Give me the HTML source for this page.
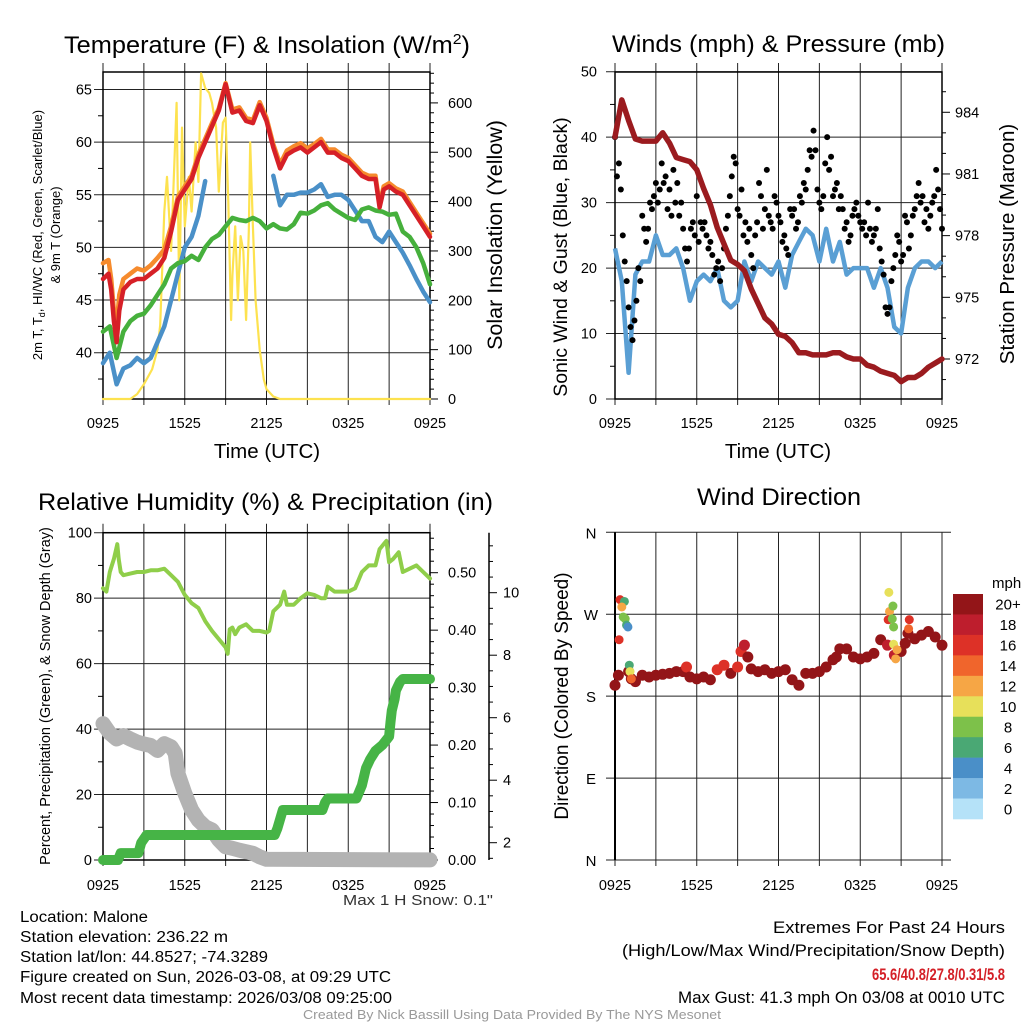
<!DOCTYPE html>
<html><head><meta charset="utf-8"><title>Mesonet Meteogram</title>
<style>
html,body{margin:0;padding:0;background:#fff;}
svg{display:block;font-family:"Liberation Sans",Arial,sans-serif;}
</style></head>
<body>
<svg id="chart" xmlns="http://www.w3.org/2000/svg" width="1024" height="1024" viewBox="0 0 1024 1024">
<rect x="0" y="0" width="1024" height="1024" fill="#fff"/>
<g id="g1"></g>
<g id="g2"></g>
<g id="g3"></g>
<g id="g4"></g>

<text x="64" y="53" font-size="24" textLength="406" lengthAdjust="spacingAndGlyphs">Temperature (F) &amp; Insolation (W/m<tspan font-size="15" dy="-9">2</tspan><tspan dy="9">)</tspan></text>
<text x="612" y="52" font-size="24" textLength="333" lengthAdjust="spacingAndGlyphs">Winds (mph) &amp; Pressure (mb)</text>
<text x="38" y="510" font-size="24" textLength="455" lengthAdjust="spacingAndGlyphs">Relative Humidity (%) &amp; Precipitation (in)</text>
<text x="697" y="505" font-size="24" textLength="164" lengthAdjust="spacingAndGlyphs">Wind Direction</text>

<text x="267" y="458" font-size="20.5" text-anchor="middle">Time (UTC)</text>
<text x="778" y="458" font-size="20.5" text-anchor="middle">Time (UTC)</text>

<text transform="translate(42,235) rotate(-90)" font-size="13" text-anchor="middle">2m T, T<tspan font-size="9" dy="3">d</tspan><tspan dy="-3">, HI/WC (Red, Green, Scarlet/Blue)</tspan></text>
<text transform="translate(60,235) rotate(-90)" font-size="13" text-anchor="middle">&amp; 9m T (Orange)</text>
<text transform="translate(502,235) rotate(-90)" font-size="21.5" text-anchor="middle">Solar Insolation (Yellow)</text>
<text transform="translate(567,257) rotate(-90)" font-size="19.5" text-anchor="middle">Sonic Wind &amp; Gust (Blue, Black)</text>
<text transform="translate(1014,244) rotate(-90)" font-size="20.5" text-anchor="middle">Station Pressure (Maroon)</text>
<text transform="translate(50,696) rotate(-90)" font-size="14.5" text-anchor="middle">Percent, Precipitation (Green), &amp; Snow Depth (Gray)</text>
<text transform="translate(568,696) rotate(-90)" font-size="19" text-anchor="middle">Direction (Colored By Speed)</text>

<text x="343" y="905" font-size="15" textLength="150" lengthAdjust="spacingAndGlyphs" fill="#333">Max 1 H Snow: 0.1"</text>

<g font-size="15.5">
<text x="20" y="922" textLength="128" lengthAdjust="spacingAndGlyphs">Location: Malone</text>
<text x="20" y="942" textLength="208" lengthAdjust="spacingAndGlyphs">Station elevation: 236.22 m</text>
<text x="20" y="962" textLength="248" lengthAdjust="spacingAndGlyphs">Station lat/lon: 44.8527; -74.3289</text>
<text x="20" y="982" textLength="371" lengthAdjust="spacingAndGlyphs">Figure created on Sun, 2026-03-08, at 09:29 UTC</text>
<text x="20" y="1003" textLength="372" lengthAdjust="spacingAndGlyphs">Most recent data timestamp: 2026/03/08 09:25:00</text>
</g>
<g font-size="16.5">
<text x="773" y="933" textLength="232" lengthAdjust="spacingAndGlyphs">Extremes For Past 24 Hours</text>
<text x="622" y="956" textLength="383" lengthAdjust="spacingAndGlyphs">(High/Low/Max Wind/Precipitation/Snow Depth)</text>
<text x="872" y="980" textLength="133" lengthAdjust="spacingAndGlyphs" fill="#d42027" font-weight="bold">65.6/40.8/27.8/0.31/5.8</text>
<text x="678" y="1003" textLength="327" lengthAdjust="spacingAndGlyphs">Max Gust: 41.3 mph On 03/08 at 0010 UTC</text>
</g>
<text x="303" y="1019" font-size="13" textLength="418" lengthAdjust="spacingAndGlyphs" fill="#999">Created By Nick Bassill Using Data Provided By The NYS Mesonet</text>
</svg>

<script>
// ---------- DATA ----------
const xTickLabels = ["0925","1525","2125","0325","0925"];

const tempTimes = [0,0.4,0.6,0.8,1,1.2,1.5,2,2.5,3,3.5,4,4.5,5,5.5,6,6.5,7,7.5,8,8.5,9,9.5,10,10.5,11,11.5,12,12.5,13,13.5,14,14.5,15,15.5,16,16.5,17,17.5,18,18.5,19,19.5,20,20.3,20.6,21,21.5,22,22.5,23,23.5,24];
const tempRed = [47,47.5,46,43,41,44,46,46.7,47,47,47.5,48,49,51.5,54.5,55.5,56.5,58.5,60,61.5,63,65.5,62.8,63,62,61.8,63.5,62,59.5,57.5,58.8,59.2,59.5,59,59.5,60,59,59,58.5,58.2,57.5,56.8,56.5,56.5,53.8,55.5,55.8,55.3,55,54,53,52,51];
const tempOrange = [48.5,48.8,47,44,42.5,45.5,47,47.5,48,47.8,48.3,49,49.8,52,54.8,55.8,56.8,58.8,60.3,61.8,63.2,65.6,63.1,63.3,62.3,62.1,63.8,62.3,59.8,57.9,59.2,59.6,59.9,59.4,59.8,60.3,59.3,59.3,58.8,58.5,57.8,57.1,56.8,56.8,54.1,55.8,56.1,55.6,55.3,54.3,53.3,52.3,51.3];
const halfHourTimes = [0,0.5,1,1.5,2,2.5,3,3.5,4,4.5,5,5.5,6,6.5,7,7.5,8,8.5,9,9.5,10,10.5,11,11.5,12,12.5,13,13.5,14,14.5,15,15.5,16,16.5,17,17.5,18,18.5,19,19.5,20,20.5,21,21.5,22,22.5,23,23.5,24];
const tempGreen = [42,42.5,39.5,42,43,43.5,43.7,44.5,45.5,46.5,48,48.5,48.7,49.2,48.8,50,50.8,51.2,52,52.8,52.6,52.5,52.8,52.5,51.8,52.2,51.8,51.7,52.2,53.3,53.2,53.5,54,54.2,53.6,53.2,52.8,52.6,53.6,53.8,53.5,53.4,53.1,53.2,51.5,51,50,48.5,46.5];
const tempBlue = [39,40,37,38.5,38.8,39.5,39,39.5,41,42.5,45,47.5,50,51,53,56.3,null,null,null,null,null,null,null,null,null,56.8,54,55,55,55.2,55.2,55.5,56,54.8,55,55,54.5,53.5,52.5,52.5,51,50.5,51.5,50.5,49.5,48.3,47,45.8,44.8];
const solarTimes = [0,2,2.5,3,3.3,3.6,4,4.2,4.5,4.7,5,5.4,5.6,5.8,6,6.3,6.5,6.8,7,7.2,7.5,7.8,8,8.3,8.5,8.8,9,9.2,9.4,9.5,9.7,9.9,10.1,10.3,10.5,10.7,10.8,11,11.2,11.5,11.8,12,12.5,13,24];
const solarValues = [0,0,10,30,45,60,100,150,380,450,300,600,200,550,350,450,380,520,440,660,630,620,600,550,420,560,570,400,160,250,350,200,330,300,160,340,520,350,200,100,40,20,5,0,0];

const pressureValues = [982.8,984.6,983.6,982.7,982.6,982.6,982.6,983,982.5,981.8,981.7,981.6,981.2,980.3,979.5,978.4,977.6,976.8,976.6,976.3,975.4,974.7,974,973.7,973.2,973.1,972.8,972.3,972.3,972.2,972.2,972.2,972.3,972.3,972.1,972,972,971.7,971.6,971.4,971.3,971.2,970.9,971.1,971.1,971.3,971.6,971.8,972];
const windValues = [23,18,4,19,21,21,25,22,22,23,20,15,18,19,18,20,15,14,15,21,18,21,20,19,21,17,22,24,26,25,21,26,21,24,19,20,20,20,17,20,17,11,10,17,20,21,21,20,21];
const gustValues = [40,34,36,32,25,21,18,14,11,9,12,15,20,18,28,26,24,26,30,29,31,33,30,32,36,33,34,29,32,28,35,30,33,28,30,26,23,21,23,26,27,25,31,24,27,26,27,25,23,24,22,19,20,21,18,20,23,26,28,31,34,37,36,29,28,32,25,27,24,26,22,20,25,27,33,31,26,29,35,28,27,26,31,30,28,27,24,25,23,22,29,28,29,26,27,31,30,33,32,35,38,37,41,38,32,30,29,31,36,40,35,37,31,32,33,29,31,29,26,27,24,25,28,29,30,28,27,26,27,25,30,26,24,25,26,29,23,21,19,14,13,14,18,20,22,25,24,21,22,28,27,23,25,28,29,31,33,30,31,27,29,26,28,30,31,35,32,29,26];

const rhTimes = [0,0.25,0.5,0.8,1.05,1.15,1.3,1.5,2,2.5,3,3.5,4,4.5,5,5.5,6,6.5,7,7.5,8,8.5,9,9.15,9.3,9.5,9.7,10,10.5,11,11.5,12,12.2,12.5,13,13.3,13.5,14,14.5,15,15.5,16,16.3,16.5,17,17.5,18,18.5,19,19.5,20,20.3,20.8,21,21.3,21.7,22,22.5,23,23.5,24];
const rhValues = [83,82,88,92,96.5,92,88,87,87.5,88,88,88.5,88.5,89,87,85,81,78.5,77,73,70,67.5,65,63,70.5,71,69,71,72,70,70,69.5,70,76,78,82,78,78,80,81.5,81,80,80,83.5,82,82,82,83,88,90,90,95,97.5,91,92,94,88,89,90,88,86];
const precipTimes = [0,1.1,1.3,2.6,2.8,3.2,12.6,12.8,13.2,16.1,16.3,16.5,18.6,19,19.3,19.6,20,20.5,21,21.1,21.2,21.4,21.5,21.6,21.8,22,24];
const precipValues = [0,0,0.012,0.012,0.03,0.0435,0.0435,0.055,0.087,0.087,0.1,0.107,0.107,0.13,0.16,0.175,0.19,0.2,0.215,0.24,0.26,0.28,0.295,0.3,0.31,0.315,0.315];
const snowTimes = [0,0.5,1,1.5,2,2.5,3,3.5,4,4.5,5,5.3,5.5,6,6.5,7,7.5,8,8.5,9,9.5,10,11,11.5,12,24];
const snowValues = [5.81,5.5,5.32,5.43,5.32,5.22,5.16,5.11,4.95,5.17,5.07,4.86,4.22,3.58,3.05,2.72,2.51,2.41,2.09,1.87,1.82,1.76,1.66,1.55,1.47,1.45];

const dirTimes = [0,0.25,1,1.2,1.5,2,2.5,3,3.5,4,4.5,5,5.25,5.5,6,6.5,7,7.5,8,8.5,9,9.25,9.5,9.75,10,10.5,11,11.5,12,12.5,13,13.5,14,14.5,15,15.5,16,16.25,16.5,17,17.5,18,18.5,19,19.5,20,20.5,21,21.3,21.5,22,22.5,23,23.5,24];
const dirValues = [192,203,207,199,196,203,201,203,204,205,207,207,212,201,199,201,198,209,214,205,212,229,236,223,210,207,209,205,207,209,198,192,205,205,207,212,220,223,232,232,223,221,223,227,242,236,225,229,238,249,243,247,251,245,236];
const dirSpeeds = [22,22,20,22,22,22,22,22,22,22,22,21,16,22,22,22,22,17,16,22,17,16,18,22,22,22,22,21,22,22,22,22,22,22,22,22,22,22,22,22,22,22,22,22,20,18,18,22,20,22,22,22,22,22,22];
const dirOutTimes = [0.37,0.69,0.5,0.6,0.75,0.85,0.95,0.3,1.05,1.1,1.2,20.1,20.15,20.05,20.4,20.35,20.45,20.45,20.6,20.7,21.6,21.55];
const dirOutValues = [286,284,278,267,265,258,256,242,214,207,199,294,273,264,279,265,256,237,221,231,264,254];
const dirOutSpeeds = [16,6,12,8,8,6,4,16,6,10,14,10,12,16,8,8,8,10,12,12,16,14];

const speedLabels = ["0","2","4","6","8","10","12","14","16","18","20+"];
const speedColors = ["#b5e2f8","#7db9e4","#4a8fc8","#4aa874","#7dc14a","#e7e05a","#f6a645","#f0652c","#dd3127","#be1e2d","#931518"];

// ---------- HELPERS ----------
const NS = "http://www.w3.org/2000/svg";
function mk(parent, tag, attrs){
  const el = document.createElementNS(NS, tag);
  for (const k in attrs) el.setAttribute(k, attrs[k]);
  parent.appendChild(el);
  return el;
}
const X0L = 103, X1L = 430, X0R = 615, X1R = 942;
function xs(x0, x1){ return t => x0 + t/24*(x1-x0); }
const xL = xs(X0L, X1L), xR = xs(X0R, X1R);

function pathFrom(times, vals, xf, yf){
  let d = "", pen = false;
  for (let i=0;i<times.length;i++){
    if (vals[i]===null){ pen=false; continue; }
    const px = xf(times[i]).toFixed(1), py = yf(vals[i]).toFixed(1);
    d += (pen?"L":"M") + px + " " + py + " ";
    pen = true;
  }
  return d;
}
function text(g, x, y, s, size, anchor, name){
  const t = mk(g, "text", {x:x, y:y, "font-size":size, "text-anchor":anchor});
  t.textContent = s;
  
  
  return t;
}
function seg(g, x1, y1, x2, y2, w, c, name){
  const l = mk(g, "line", {x1:x1, y1:y1, x2:x2, y2:y2, stroke:c||"#000", "stroke-width":w||1});
  
  
  return l;
}
function timeGrid(g, xf, top, bot, labY){
  for (let h=0; h<=24; h+=3){
    seg(g, xf(h), top-9, xf(h), bot+6, 1, "#222", "x-gridline");
  }
  xTickLabels.forEach((s,i)=>{ text(g, xf(i*6), labY, s, 14.5, "middle", "x-tick-label"); });
}

// ---------- PANEL 1: Temperature ----------
(function(){
  const g = document.getElementById("g1");
  const top=72, bot=399;
  const yT = v => 352.7 - (v-40)*10.53;
  const yS = v => 399 - v*0.4935;
  for (let v=40; v<=65; v+=5){ seg(g, X0L-9, yT(v), X1L, yT(v), 1, "#222", "y-gridline"); text(g, 92, yT(v)+5, String(v), 14.5, "end", "y-tick-label"); }
  for (let v=37.5; v<=65; v+=5){ seg(g, X0L-5, yT(v), X0L, yT(v), 1, "#000", "y-minor-tick"); }
  for (let v=0; v<=660; v+=20){ const major = v%100===0; seg(g, X1L, yS(v), X1L+(major?8:4), yS(v), 1, "#000", "right-tick"); if(major && v<=600) text(g, 448, yS(v)+5, String(v), 14.5, "start", "right-tick-label"); }
  timeGrid(g, xL, top, bot, 428);
  const box = mk(g, "rect", {x:X0L, y:top, width:X1L-X0L, height:bot-top, fill:"none", stroke:"#000", "stroke-width":1.5});
  
  
  const series = [
    [solarTimes, solarValues, yS, "#fde24f", 2.2, "solar-line"],
    [halfHourTimes, tempBlue, yT, "#4a90c8", 4.5, "blue-hiwc-line"],
    [halfHourTimes, tempGreen, yT, "#46b03c", 4.5, "dewpoint-line"],
    [tempTimes, tempOrange, yT, "#f68b2d", 4.5, "temp-9m-line"],
    [tempTimes, tempRed, yT, "#d62027", 4.5, "temp-2m-line"]
  ];
  series.forEach(s=>{
    const p = mk(g, "path", {d:pathFrom(s[0], s[1], xL, s[2]), fill:"none", stroke:s[3], "stroke-width":s[4], "stroke-linejoin":"round", "stroke-linecap":"round"});
    
    
  });
})();

// ---------- PANEL 2: Winds & Pressure ----------
(function(){
  const g = document.getElementById("g2");
  const top=72, bot=399;
  const yW = v => 399 - v*6.546;
  const yP = v => 359 - (v-972)*20.56;
  for (let v=0; v<=50; v+=10){ seg(g, X0R-9, yW(v), X1R, yW(v), 1, "#222", "y-gridline"); text(g, 597, yW(v)+5, String(v), 14.5, "end", "y-tick-label"); }
  for (let v=5; v<=50; v+=10){ seg(g, X0R-5, yW(v), X0R, yW(v), 1, "#000", "y-minor-tick"); }
  for (let v=971; v<=985; v+=1){ const major = (v-972)%3===0; seg(g, X1R, yP(v), X1R+(major?8:4), yP(v), 1, "#000", "right-tick"); if(major) text(g, 955, yP(v)+5, String(v), 14.5, "start", "right-tick-label"); }
  timeGrid(g, xR, top, bot, 428);
  const box = mk(g, "rect", {x:X0R, y:top, width:X1R-X0R, height:bot-top, fill:"none", stroke:"#000", "stroke-width":1.5});
  
  
  const w = mk(g, "path", {d:pathFrom(halfHourTimes, windValues, xR, yW), fill:"none", stroke:"#5a9fd4", "stroke-width":4.5, "stroke-linejoin":"round"});
  
  
  gustValues.forEach((v,i)=>{
    const c = mk(g, "circle", {cx:xR(i*24/(gustValues.length-1)), cy:yW(v), r:3, fill:"#000"});
    
    
  });
  const p = mk(g, "path", {d:pathFrom(halfHourTimes, pressureValues, xR, yP), fill:"none", stroke:"#9b1b1f", "stroke-width":5.5, "stroke-linejoin":"round", "stroke-linecap":"round"});
  
  
})();

// ---------- PANEL 3: RH & Precip ----------
(function(){
  const g = document.getElementById("g3");
  const top=532.7, bot=860;
  const yH = v => 860 - v*3.273;
  const yPr = v => 860 - v*574.6;
  const ySn = v => 842.7 - (v-2)*31.25;
  for (let v=0; v<=100; v+=20){ seg(g, X0L-9, yH(v), X1L, yH(v), 1, "#222", "y-gridline"); text(g, 92, yH(v)+5, String(v), 14.5, "end", "y-tick-label"); }
  for (let v=10; v<=100; v+=20){ seg(g, X0L-5, yH(v), X0L, yH(v), 1, "#000", "y-minor-tick"); }
  for (let i=0; i<=28; i++){ const v=i*0.02; const major = i%5===0; seg(g, X1L, yPr(v), X1L+(major?8:4), yPr(v), 1, "#000", "precip-tick"); if(major) text(g, 448, yPr(v)+5, v.toFixed(2), 14.5, "start", "precip-tick-label"); }
  seg(g, 489, top, 489, bot, 1.5, "#000", "snow-axis-line");
  for (let v=1.5; v<=11.5; v+=0.5){ const major = v%2===0; seg(g, 489, ySn(v), 489+(major?8:4), ySn(v), 1, "#000", "snow-tick"); if(major) text(g, 503, ySn(v)+5, String(v), 14.5, "start", "snow-tick-label"); }
  timeGrid(g, xL, top, bot, 890);
  const box = mk(g, "rect", {x:X0L, y:top, width:X1L-X0L, height:bot-top, fill:"none", stroke:"#000", "stroke-width":1.5});
  
  
  const sn = mk(g, "path", {d:pathFrom(snowTimes, snowValues, xL, ySn), fill:"none", stroke:"#b3b3b3", "stroke-width":15, "stroke-linejoin":"round", "stroke-linecap":"round"});
  
  
  const pr = mk(g, "path", {d:pathFrom(precipTimes, precipValues, xL, yPr), fill:"none", stroke:"#46b446", "stroke-width":10, "stroke-linejoin":"round", "stroke-linecap":"round"});
  
  
  const rh = mk(g, "path", {d:pathFrom(rhTimes, rhValues, xL, yH), fill:"none", stroke:"#8fce4a", "stroke-width":4, "stroke-linejoin":"round", "stroke-linecap":"round"});
  
  
})();

// ---------- PANEL 4: Wind direction ----------
(function(){
  const g = document.getElementById("g4");
  const top=532.3, bot=860;
  const yD = v => 860 - v*(bot-top)/360;
  const dirLabels = ["N","E","S","W","N"];
  for (let i=0;i<=4;i++){ const v=i*90; seg(g, 606, yD(v), 951, yD(v), 1, "#222", "direction-gridline"); text(g, 591, yD(v)+6, dirLabels[i], 15, "middle", "direction-label"); }
  timeGrid(g, xR, top+9, bot, 890);
  seg(g, X0R, top, X0R, bot, 2, "#000", "left-axis-line");
  const col = s => speedColors[Math.max(0, Math.min(10, Math.floor(s/2)))];
  dirTimes.forEach((t,i)=>{
    const c = mk(g, "circle", {cx:xR(t), cy:yD(dirValues[i]), r:5.5, fill:col(dirSpeeds[i])});
    
    
  });
  dirOutTimes.forEach((t,i)=>{
    const c = mk(g, "circle", {cx:xR(t), cy:yD(dirOutValues[i]), r:4.5, fill:col(dirOutSpeeds[i])});
    
    
  });
  // colorbar
  text(g, 992, 588, "mph", 15, "start", "colorbar-title");
  const cbTop=594, boxH=(819-594)/11;
  for (let i=0;i<11;i++){
    const idx = 10-i;
    const r = mk(g, "rect", {x:953, y:cbTop+i*boxH, width:30, height:boxH+0.3, fill:speedColors[idx]});
    
    
    text(g, 1008, cbTop+i*boxH+boxH/2+5.5, speedLabels[idx], 15, "middle", "colorbar-label");
  }
})();
</script>
</body></html>
